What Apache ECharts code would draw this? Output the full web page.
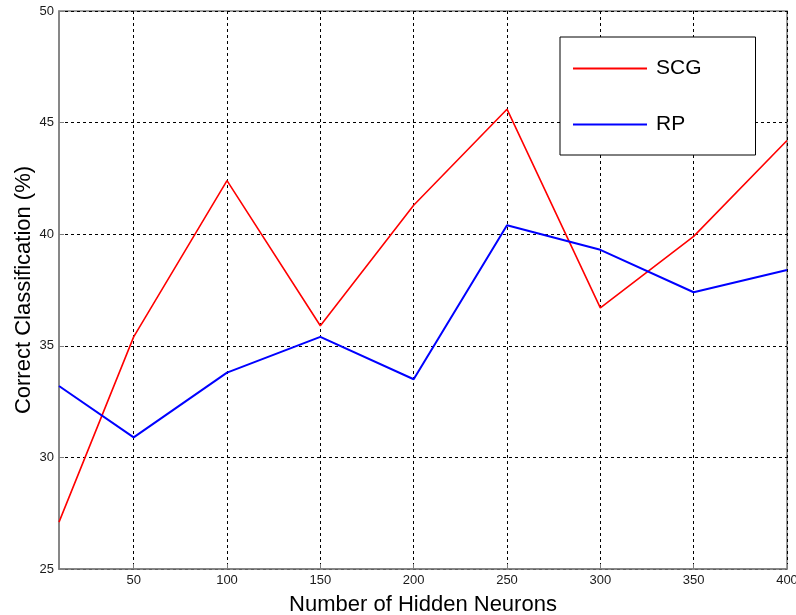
<!DOCTYPE html>
<html>
<head>
<meta charset="utf-8">
<script src="https://cdn.jsdelivr.net/npm/echarts@6/dist/echarts.min.js"></script>
<style>html,body{margin:0;padding:0;background:#fff;}#c{width:796px;height:615px;}</style>
</head>
<body>
<div id="c"></div>
<script>
const neurons = [10, 50, 100, 150, 200, 250, 300, 350, 400];
const scg = [27.1, 35.4, 42.4, 35.9, 41.3, 45.6, 36.7, 39.9, 44.2];
const rp  = [33.2, 30.9, 33.8, 35.4, 33.5, 40.4, 39.3, 37.4, 38.4];
const xTicks = [50, 100, 150, 200, 250, 300, 350, 400];
const xTitle = 'Number of Hidden Neurons';
const yTitle = 'Correct Classification (%)';

const font = 'Liberation Sans, Arial, sans-serif';
const chart = echarts.init(document.getElementById('c'));
const pairs = (ys) => neurons.map((x, i) => [x, ys[i]]);
chart.setOption({
  animation: false,
  backgroundColor: '#fff',
  grid: { left: 59, right: 9, top: 11, bottom: 46, outerBoundsMode: 'none', containLabel: false,
          show: true, borderColor: '#7f7f7f', borderWidth: 1.5, backgroundColor: '#fff' },
  legend: {
    orient: 'vertical', left: 560, top: 37,
    padding: [21, 54, 20, 13],
    itemGap: 35, itemWidth: 74, itemHeight: 2, icon: 'rect',
    backgroundColor: '#fff', borderColor: '#000', borderWidth: 1,
    textStyle: { fontFamily: font, fontSize: 21, color: '#000', padding: [0, 0, 0, 4] },
    data: ['SCG', 'RP']
  },
  xAxis: {
    type: 'value', min: 10, max: 400,
    name: xTitle, nameLocation: 'middle', nameGap: 25, nameMoveOverlap: false,
    nameTextStyle: { fontFamily: font, fontSize: 22, color: '#000' },
    axisLine: { show: true, lineStyle: { color: '#7f7f7f', width: 1.5 } },
    axisTick: { show: true, inside: true, length: 5, lineStyle: { color: '#7f7f7f' }, customValues: xTicks },
    axisLabel: { fontFamily: font, fontSize: 13, color: '#1a1a1a', margin: 5, customValues: xTicks },
    splitLine: { show: true, lineStyle: { color: '#000', type: [3, 3], width: 1 } }
  },
  yAxis: {
    type: 'value', min: 25, max: 50, interval: 5,
    name: yTitle, nameLocation: 'middle', nameGap: 24, nameMoveOverlap: false,
    nameTextStyle: { fontFamily: font, fontSize: 22, color: '#000' },
    axisLine: { show: true, lineStyle: { color: '#7f7f7f', width: 1.5 } },
    axisTick: { show: true, inside: true, length: 5, lineStyle: { color: '#7f7f7f' } },
    axisLabel: { fontFamily: font, fontSize: 13, color: '#1a1a1a', margin: 5 },
    splitLine: { show: true, lineStyle: { color: '#000', type: [3, 3], width: 1 } }
  },
  series: [
    { name: 'SCG', type: 'line', data: pairs(scg), symbol: 'none', lineStyle: { color: '#ff0000', width: 1.6 }, itemStyle: { color: '#ff0000' } },
    { name: 'RP', type: 'line', data: pairs(rp), symbol: 'none', lineStyle: { color: '#0000ff', width: 2 }, itemStyle: { color: '#0000ff' } }
  ]
});
</script>
</body>
</html>
